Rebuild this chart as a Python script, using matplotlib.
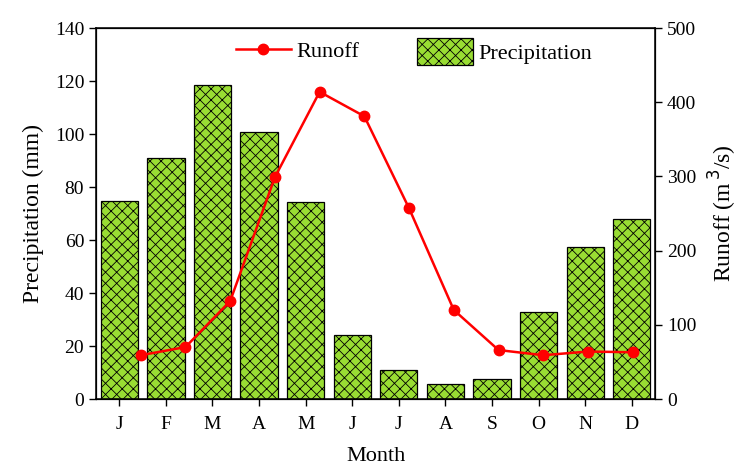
import numpy as np
import matplotlib
matplotlib.use("Agg")
import matplotlib.pyplot as plt

plt.rcParams["font.family"] = ["Liberation Serif", "DejaVu Serif"]
plt.rcParams["hatch.linewidth"] = 0.6

months = ["J", "F", "M", "A", "M", "J", "J", "A", "S", "O", "N", "D"]
precip = [74.7, 90.9, 118.5, 100.8, 74.3, 24.2, 10.9, 5.7, 7.5, 32.8, 57.4, 67.9]
runoff = [59, 70, 132, 299, 414, 381, 257, 120, 66, 59, 64, 63]

fig = plt.figure(figsize=(7.41, 4.67), dpi=100)
ax = fig.add_axes([0.1296, 0.1456, 0.7544, 0.7944])

x = np.arange(len(months))
bars = ax.bar(x, precip, width=0.8, color="#99DD33", edgecolor="black",
              linewidth=0.9, hatch="xxx", label="Precipitation")
ax.set_xlim(-0.5, 11.5)
ax.set_ylim(0, 140)
ax.set_yticks(range(0, 141, 20))
ax.set_xticks(x)
ax.set_xticklabels(months)
ax.set_ylabel("Precipitation (mm)", fontsize=17, labelpad=8)
ax.set_xlabel("Month", fontsize=16, labelpad=10)
ax.tick_params(axis="both", direction="out", length=5, width=1, labelsize=14)
ax.tick_params(axis="x", pad=7)
for s in ax.spines.values():
    s.set_linewidth(1.1)

# right axis for runoff
ax_r = ax.twinx()
ax_r.set_ylim(0, 500)
ax_r.set_yticks(range(0, 501, 100))
ax_r.tick_params(axis="y", direction="out", length=5, width=1, labelsize=14)
ax_r.set_ylabel("Runoff (m$^{\\,3}$/s)", fontsize=17, labelpad=8)

# runoff line sits on its own x scale (month 1..12)
ax_l = ax_r.twiny()
ax_l.set_xlim(0, 12.5)
ax_l.set_xticks([])
xl = np.arange(1, len(months) + 1)
line, = ax_l.plot(xl, runoff, color="#FF0000", linewidth=1.8, marker="o",
                  markersize=7.5, label="Runoff")

leg_kw = dict(frameon=False, fontsize=16, borderpad=0, borderaxespad=0,
              handletextpad=0.25)
fig.legend([line], ["Runoff"], loc="center left",
           bbox_to_anchor=(0.318, 0.89), handlelength=2.5, **leg_kw)
fig.legend([bars], ["Precipitation"], loc="center left",
           bbox_to_anchor=(0.563, 0.89), handlelength=2.5,
           handleheight=1.45, **leg_kw)

plt.savefig("out.png", dpi=100)
